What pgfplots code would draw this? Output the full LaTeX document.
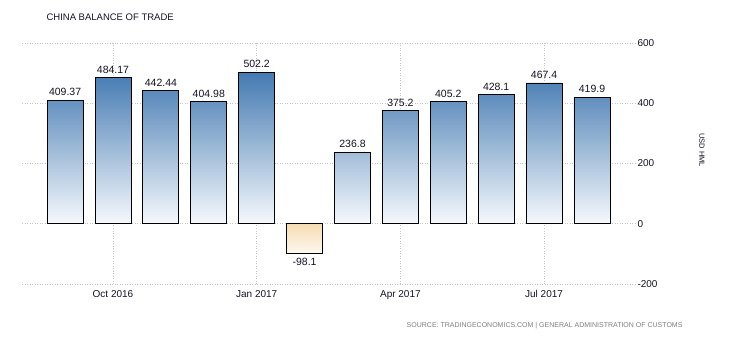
\documentclass[border=0pt]{standalone}
\usepackage{pgfplots}
\pgfplotsset{compat=1.18}
\usepackage{pgfplotstable}
\usepackage{fontspec}
\setmainfont{Liberation Sans}
\definecolor{bartop}{RGB}{68,122,178}
\definecolor{barbot}{RGB}{246,249,253}
\definecolor{negtop}{RGB}{247,220,178}
\definecolor{negbot}{RGB}{253,248,240}
\definecolor{gridc}{RGB}{195,195,195}
\definecolor{txt}{RGB}{20,20,40}
\pgfplotstableread{
x y lab
0 409.37 409.37
1 484.17 484.17
2 442.44 442.44
3 404.98 404.98
4 502.2 502.2
6 236.8 236.8
7 375.2 375.2
8 405.2 405.2
9 428.1 428.1
10 467.4 467.4
11 419.9 419.9
}\pos
\pgfplotstableread{
x y lab
5 -98.1 -98.1
}\neg
\begin{document}
\begin{tikzpicture}[x=1pt,y=1pt]
\fill[white] (0,0) rectangle (730,340);
\node[anchor=west,font=\fontsize{9.5}{11}\selectfont,text=txt] at (43,323) {CHINA BALANCE OF TRADE};
\node[anchor=east,font=\fontsize{7}{8}\selectfont,text=gray] at (686,14) {SOURCE: TRADINGECONOMICS.COM | GENERAL ADMINISTRATION OF CUSTOMS};
\node[rotate=-90,font=\fontsize{7.5}{9}\selectfont,text=txt] at (702,190) {USD HML};
\begin{axis}[
  at={(22pt,56pt)}, anchor=south west,
  scale only axis, width=615pt, height=241pt,
  xmin=-0.9, xmax=11.94, ymin=-200, ymax=600,
  axis line style={draw=none},
  major tick length=0pt,
  xtick={1,4,7,10},
  xticklabels={Oct 2016,Jan 2017,Apr 2017,Jul 2017},
  ytick={-200,0,200,400,600},
  yticklabel pos=right,
  yticklabel style={anchor=west,xshift=-3pt},
  xticklabel style={yshift=-3pt},
  ticklabel style={font=\fontsize{10}{12}\selectfont,text=txt},
  /pgf/number format/assume math mode=true,
  grid=major,
  major grid style={draw=gridc, dash pattern=on 1pt off 1.5pt, line width=0.6pt},
  nodes near coords,
  point meta=explicit symbolic,
  nodes near coords style={font=\fontsize{10.5}{12}\selectfont,text=txt, inner sep=4pt},
  axis on top=false,
]
\addplot[ybar, bar width=36pt, draw=black, line width=0.9pt, top color=bartop, bottom color=barbot] table[x=x,y=y,meta=lab]{\pos};
\addplot[ybar, bar width=36pt, draw=black, line width=0.9pt, top color=negtop, bottom color=negbot, nodes near coords style={anchor=north}] table[x=x,y=y,meta=lab]{\neg};
\end{axis}
\end{tikzpicture}
\end{document}
